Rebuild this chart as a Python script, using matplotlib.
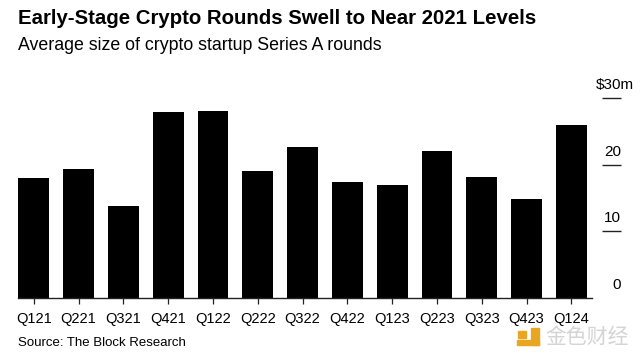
import matplotlib
matplotlib.use("Agg")
import matplotlib.pyplot as plt
import matplotlib.transforms as mtransforms

categories = ["Q121", "Q221", "Q321", "Q421", "Q122", "Q222", "Q322",
              "Q422", "Q123", "Q223", "Q323", "Q423", "Q124"]
avg_size_musd = [17.9, 19.3, 13.8, 27.9, 28.0, 19.0, 22.7,
                 17.3, 16.9, 22.1, 18.1, 14.8, 25.9]
y_ticks = [0, 10, 20, 30]
y_tick_labels = ["0", "10", "20", "$30m"]

title = "Early-Stage Crypto Rounds Swell to Near 2021 Levels"
subtitle = "Average size of crypto startup Series A rounds"
source = "Source: The Block Research"

plt.rcParams['font.family'] = ['Liberation Sans', 'DejaVu Sans']

W, H = 641, 358
fig = plt.figure(figsize=(W / 100, H / 100), dpi=100)
ax = fig.add_axes([18 / W, (H - 297.5) / H, 574 / W, (297.5 - 98) / H])

x = list(range(len(categories)))
ax.bar(x, avg_size_musd, width=0.69, color="black", edgecolor="none", zorder=2)
ax.set_xlim(-0.353, 12.46)
ax.set_ylim(0, 30)

for s in ["top", "right", "left"]:
    ax.spines[s].set_visible(False)
ax.spines["bottom"].set_color("#222222")
ax.spines["bottom"].set_linewidth(1.0)
ax.set_yticks([])
ax.set_xticks(x)
ax.set_xticklabels(categories, fontsize=10.5)
ax.tick_params(axis="x", length=4.3, width=0.9, color="#222222", pad=6.5)

# right-side value scale
trans = mtransforms.blended_transform_factory(ax.transAxes, ax.transData)
x0 = (602 - 18) / 574
x1 = (621 - 18) / 574
xs = (596 - 18) / 574
ax.hlines(y_ticks[1:], x0, x1, transform=trans, color="#222222", lw=1.0, clip_on=False)
for v, lab in zip(y_ticks, y_tick_labels):
    if lab.startswith("$"):
        ax.text(xs, v + 1.3, lab, transform=trans, ha="left", va="baseline",
                fontsize=11, color="black", clip_on=False)
    else:
        ax.text(x1, v + 1.3, lab, transform=trans, ha="right", va="baseline",
                fontsize=11, color="black", clip_on=False)

fig.text(18 / W, 1 - 18 / H, title, fontsize=14.7, fontweight="bold",
         ha="left", va="center", color="black")
fig.text(18 / W, 1 - 45 / H, subtitle, fontsize=12.8, ha="left", va="center",
         color="black")
fig.text(18 / W, 1 - 343 / H, source, fontsize=9.5, ha="left", va="center",
         color="black")

# watermark
fig.text(545 / W, 1 - 337 / H, "金色财经", fontsize=15,
         family=['Noto Sans CJK SC', 'DejaVu Sans'], color="#d4d4d4",
         ha="left", va="center")
logo_col = "#e8a623"
for (lx, ly, lw, lh) in [(518, 331, 8, 7), (531, 328, 8, 17), (517, 340, 22, 5)]:
    fig.patches.append(plt.Rectangle((lx / W, 1 - (ly + lh) / H), lw / W, lh / H,
                                     transform=fig.transFigure, color=logo_col,
                                     zorder=0))

fig.savefig("out.png", dpi=100)
